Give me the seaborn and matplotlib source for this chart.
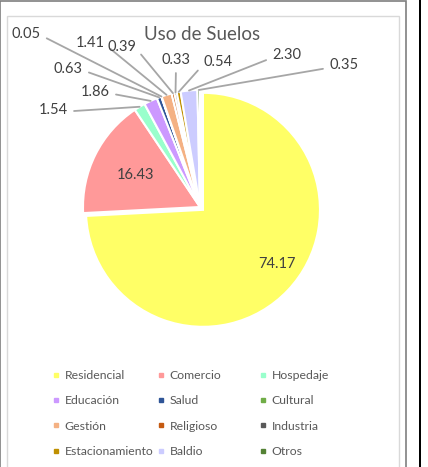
import matplotlib
matplotlib.use("Agg")
import matplotlib.pyplot as plt
import seaborn as sns
import numpy as np
from matplotlib.lines import Line2D
from matplotlib.patches import Rectangle

# --- DATA ---
categories = ['Residencial', 'Comercio', 'Hospedaje', 'Educación', 'Salud', 'Cultural',
              'Gestión', 'Religioso', 'Industria', 'Estacionamiento', 'Baldio', 'Otros']
values = [74.17, 16.43, 1.54, 1.86, 0.63, 0.05, 1.41, 0.39, 0.33, 0.54, 2.30, 0.35]
colors = ['#FFFF66', '#FF9999', '#99FFCC', '#CC99FF', '#2F5597', '#70AD47',
          '#F4B183', '#C55A11', '#595959', '#BF9000', '#CCCCFF', '#548235']

# outside label spots (pixels from top-left); inside labels use a radius instead
label_spots = [0.78, 0.62, (68, 110), (110, 92), (83, 69), (41, 34), (105, 43),
               (136, 47), (176, 60), (203, 62), (272, 55), (329, 65)]

W, H = 428, 467
sns.set_theme(style="white")
plt.rcParams['font.family'] = ['Lato', 'DejaVu Sans']

fig = plt.figure(figsize=(W / 100, H / 100), dpi=100)

# chart frames
fig.patches.append(Rectangle((0, -5), 406, H + 4, transform=None, fill=False,
                             edgecolor='#7F7F7F', linewidth=1.2))
fig.patches.append(Rectangle((7, -5), 392, H - 16 + 5, transform=None, fill=False,
                             edgecolor='#D9D9D9', linewidth=1.0))
fig.patches.append(Rectangle((419, -5), 2, H + 10, transform=None, facecolor='black',
                             edgecolor='none'))

# pie axes: centre ~ (200, 207) px, radius ~117 px
cx, cy, R = 200, 207, 117
ax = fig.add_axes([(cx - R) / W, (H - cy - R) / H, 2 * R / W, 2 * R / H])
explode = [0.035] + [0] * (len(values) - 1)
wedges, _ = ax.pie(values, colors=colors, startangle=90, counterclock=False,
                   explode=explode, wedgeprops=dict(edgecolor='white', linewidth=1.5))
ax.set_xlim(-1, 1)
ax.set_ylim(-1, 1)
ax.axis('off')

txt_color = '#404040'
for i, (w, v) in enumerate(zip(wedges, values)):
    ang = np.deg2rad((w.theta1 + w.theta2) / 2)
    spot = label_spots[i]
    if not isinstance(spot, tuple):
        r = spot + explode[i]
        if i == 0:
            ang += np.deg2rad(7)
        ax.text(r * np.cos(ang), r * np.sin(ang), f'{v:.2f}',
                ha='center', va='center', fontsize=10.5, color=txt_color)
        continue
    px, py = spot
    if px < cx - 30:
        ha, rel = 'right', (1, 0.4)
    elif px > cx:
        ha, rel = 'left', (0, 0.3)
    else:
        ha, rel = 'center', (0.5, 0)
    ax.annotate(f'{v:.2f}', xy=(np.cos(ang), np.sin(ang)),
                xytext=(px, H - py), textcoords='figure pixels',
                ha=ha, va='center', fontsize=10.5, color=txt_color,
                arrowprops=dict(arrowstyle='-', color='#A6A6A6', lw=1.3,
                                relpos=rel, shrinkA=2, shrinkB=0),
                annotation_clip=False)

fig.text(202 / W, 1 - 34 / H, 'Uso de Suelos', ha='center', va='center',
         fontsize=13.5, color='#595959')

# legend: three columns, filled row by row
col_x = [52, 157, 259]
for c in range(3):
    idx = [c, c + 3, c + 6, c + 9]
    handles = [Line2D([], [], marker='s', linestyle='', markersize=3.5,
                      color=colors[i]) for i in idx]
    fig.legend(handles, [categories[i] for i in idx], loc='upper left',
               bbox_to_anchor=(col_x[c] / W, 1 - 370 / H), frameon=False,
               fontsize=8.8, labelcolor='#595959', handlelength=0.6,
               handletextpad=0.45, labelspacing=1.17, borderpad=0, borderaxespad=0)

fig.savefig('out.png', dpi=100)
